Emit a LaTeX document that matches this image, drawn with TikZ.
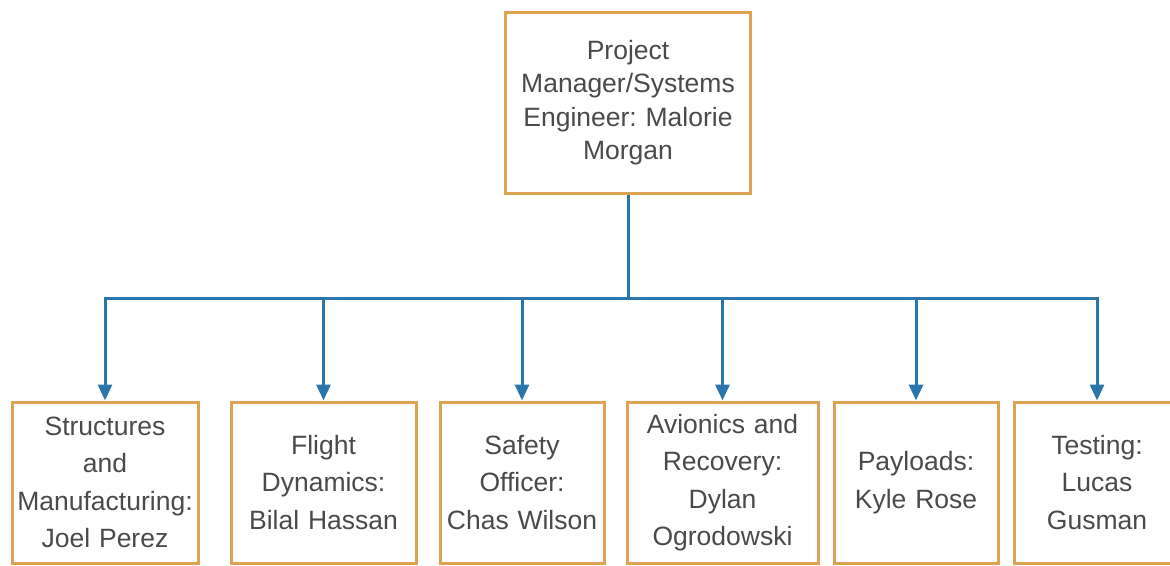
\documentclass[tikz,border=0pt]{standalone}
\usepackage{fontspec}
\setmainfont{Liberation Sans}
\usepackage{tikz}
\usetikzlibrary{arrows.meta, positioning, calc}
\definecolor{boxorange}{HTML}{DFA152}
\definecolor{linkblue}{HTML}{2A76AC}
\definecolor{textgray}{HTML}{4A4A4A}
\frenchspacing

\begin{document}
\begin{tikzpicture}[x=1pt, y=-1pt,
    box/.style={draw=boxorange, line width=3pt, fill=white, inner sep=0pt,
      align=center, text=textgray, font=\fontsize{26.5}{37.5}\selectfont},
    link/.style={draw=linkblue, line width=3pt,
      -{Triangle[width=14pt,length=16pt]}}]
  \useasboundingbox (0,0) rectangle (1170,565);

  % Top box
  \node[box, text width=245pt, minimum height=181pt,
    font=\fontsize{26.5}{33.5}\selectfont] (pm) at (628,102.5)
    {Project\\Manager/Systems\\Engineer: Malorie\\Morgan};

  % Team leads
  \node[box, text width=186pt, minimum height=161pt] (struct) at (105,482.5)
    {Structures\\and\\Manufacturing:\\Joel Perez};
  \node[box, text width=185pt, minimum height=161pt] (flight) at (323.5,482.5)
    {Flight\\Dynamics:\\Bilal Hassan};
  \node[box, text width=164pt, minimum height=161pt] (safety) at (522,482.5)
    {Safety\\Officer:\\Chas Wilson};
  \node[box, text width=191pt, minimum height=161pt] (avionics) at (722.5,482.5)
    {Avionics and\\Recovery:\\Dylan\\Ogrodowski};
  \node[box, text width=164pt, minimum height=161pt] (payload) at (916,482.5)
    {Payloads:\\Kyle Rose};
  \node[box, text width=166pt, minimum height=161pt] (testing) at (1097,482.5)
    {Testing:\\Lucas\\Gusman};

  % Connectors
  \coordinate (bar) at (628,298);
  \foreach \n in {struct, flight, safety, avionics, payload, testing} {
    \draw[link] (pm.south) -- (pm.south |- bar) -| (\n.north);
  }
\end{tikzpicture}
\end{document}
